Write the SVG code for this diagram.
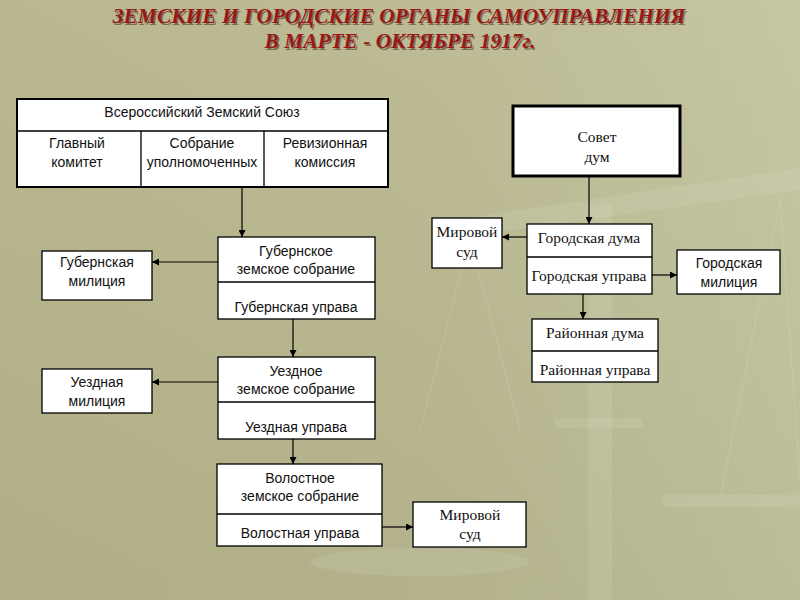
<svg xmlns="http://www.w3.org/2000/svg" width="800" height="600" viewBox="0 0 800 600">
<defs>
<linearGradient id="bg" x1="0" y1="0" x2="1" y2="0">
<stop offset="0" stop-color="#b6b58b"/>
<stop offset="0.55" stop-color="#bab991"/>
<stop offset="1" stop-color="#c3c49f"/>
</linearGradient>
<linearGradient id="bgv" x1="0" y1="0" x2="0" y2="1">
<stop offset="0" stop-color="#ffffff" stop-opacity="0.04"/>
<stop offset="1" stop-color="#000000" stop-opacity="0.04"/>
</linearGradient>
<marker id="ah" markerWidth="7" markerHeight="7" refX="7" refY="3.5" orient="auto" markerUnits="userSpaceOnUse">
<path d="M0,0 L7,3.5 L0,7 z" fill="#000"/>
</marker>
<style>
.box{fill:#fff;stroke:#000;stroke-width:1.3}
.thick{fill:#fff;stroke:#000;stroke-width:2}
.thicker{fill:#fff;stroke:#000;stroke-width:3}
.div{stroke:#000;stroke-width:1.3;fill:none}
.s{font-family:"Liberation Sans",Arial,sans-serif;font-size:14px;fill:#111;text-anchor:middle}
.r{font-family:"Liberation Serif","Times New Roman",serif;font-size:15.5px;fill:#111;text-anchor:middle}
.title{font-family:"Liberation Serif","Times New Roman",serif;font-size:21.4px;font-weight:bold;font-style:italic;text-anchor:middle}
.conn line{stroke:#000;stroke-width:1.2;marker-end:url(#ah)}
.faint{fill:#ffffff;opacity:0.09}
.fline{stroke:#ffffff;stroke-opacity:0.14;stroke-width:1;fill:none}
</style>
</defs>
<rect width="800" height="600" fill="url(#bg)"/>
<rect width="800" height="600" fill="url(#bgv)"/>
<g id="background-scales">
<rect class="faint" x="588" y="205" width="24" height="395"/>
<polygon class="faint" points="440,222 800,168 800,190 440,240"/>
<path class="fline" d="M470,238 L420,430 M470,238 L520,430 M780,200 L720,500 M780,200 L800,480"/>
<rect class="faint" x="555" y="418" width="88" height="10"/>
<rect class="faint" x="663" y="495" width="137" height="12"/>
<ellipse class="faint" cx="420" cy="562" rx="110" ry="14"/>
</g>
<g id="title">
<text class="title" x="399" y="23" fill="#3a0a0a" opacity="0.45" transform="translate(1.5,1.5)">ЗЕМСКИЕ И ГОРОДСКИЕ ОРГАНЫ САМОУПРАВЛЕНИЯ</text>
<text class="title" x="399" y="23" fill="#981818">ЗЕМСКИЕ И ГОРОДСКИЕ ОРГАНЫ САМОУПРАВЛЕНИЯ</text>
<text class="title" x="400" y="48" fill="#3a0a0a" opacity="0.45" transform="translate(1.5,1.5)">В МАРТЕ - ОКТЯБРЕ 1917г.</text>
<text class="title" x="400" y="48" fill="#981818">В МАРТЕ - ОКТЯБРЕ 1917г.</text>
</g>
<g id="zemsky-soyuz">
<rect class="thick" x="17" y="99" width="371" height="88"/>
<line class="div" x1="17" y1="131" x2="388" y2="131"/>
<line class="div" x1="141" y1="131" x2="141" y2="187"/>
<line class="div" x1="264" y1="131" x2="264" y2="187"/>
<text class="s" x="202" y="117">Всероссийский Земский Союз</text>
<text class="s" x="77" y="148">Главный</text>
<text class="s" x="77" y="167">комитет</text>
<text class="s" x="202" y="148">Собрание</text>
<text class="s" x="202" y="167">уполномоченных</text>
<text class="s" x="325" y="148">Ревизионная</text>
<text class="s" x="325" y="167">комиссия</text>
</g>
<g id="gub-sobranie">
<rect class="box" x="218" y="237" width="157" height="82"/>
<line class="div" x1="218" y1="282" x2="375" y2="282"/>
<text class="s" x="296" y="256">Губернское</text>
<text class="s" x="296" y="274">земское собрание</text>
<text class="s" x="296" y="312">Губернская управа</text>
</g>
<g id="gub-militsiya">
<rect class="box" x="42" y="251" width="110" height="49"/>
<text class="s" x="97" y="267">Губернская</text>
<text class="s" x="97" y="286">милиция</text>
</g>
<g id="uezd-sobranie">
<rect class="box" x="218" y="357" width="157" height="82"/>
<line class="div" x1="218" y1="402" x2="375" y2="402"/>
<text class="s" x="296" y="376">Уездное</text>
<text class="s" x="296" y="394">земское собрание</text>
<text class="s" x="296" y="432">Уездная управа</text>
</g>
<g id="uezd-militsiya">
<rect class="box" x="42" y="369" width="110" height="44"/>
<text class="s" x="97" y="387">Уездная</text>
<text class="s" x="97" y="406">милиция</text>
</g>
<g id="volost-sobranie">
<rect class="box" x="217" y="464" width="165" height="82"/>
<line class="div" x1="217" y1="514" x2="382" y2="514"/>
<text class="s" x="300" y="483">Волостное</text>
<text class="s" x="300" y="501">земское собрание</text>
<text class="s" x="300" y="538">Волостная управа</text>
</g>
<g id="mirovoy-sud-volost">
<rect class="box" x="413" y="502" width="113" height="45"/>
<text class="r" x="470" y="520">Мировой</text>
<text class="r" x="470" y="539">суд</text>
</g>
<g id="sovet-dum">
<rect class="thicker" x="513" y="106" width="167" height="70"/>
<text class="r" x="597" y="142">Совет</text>
<text class="r" x="597" y="162">дум</text>
</g>
<g id="gorod-duma">
<rect class="box" x="527" y="224" width="125" height="70"/>
<line class="div" x1="527" y1="257" x2="652" y2="257"/>
<text class="r" x="589" y="243">Городская дума</text>
<text class="r" x="589" y="281">Городская управа</text>
</g>
<g id="mirovoy-sud-gorod">
<rect class="box" x="432" y="218" width="70" height="50"/>
<text class="r" x="467" y="237">Мировой</text>
<text class="r" x="467" y="257">суд</text>
</g>
<g id="gorod-militsiya">
<rect class="box" x="677" y="250" width="103" height="44"/>
<text class="s" x="729" y="268">Городская</text>
<text class="s" x="729" y="287">милиция</text>
</g>
<g id="rayon-duma">
<rect class="box" x="532" y="319" width="126" height="63"/>
<line class="div" x1="532" y1="351" x2="658" y2="351"/>
<text class="r" x="595" y="338">Районная дума</text>
<text class="r" x="595" y="375">Районная управа</text>
</g>
<g id="connectors" class="conn">
<line x1="242" y1="188" x2="242" y2="237"/>
<line x1="218" y1="262" x2="152" y2="262"/>
<line x1="293" y1="319" x2="293" y2="357"/>
<line x1="218" y1="382" x2="152" y2="382"/>
<line x1="293" y1="439" x2="293" y2="464"/>
<line x1="382" y1="527" x2="413" y2="527"/>
<line x1="589" y1="177" x2="589" y2="224"/>
<line x1="527" y1="237" x2="502" y2="237"/>
<line x1="652" y1="275" x2="677" y2="275"/>
<line x1="583" y1="294" x2="583" y2="319"/>
</g>
</svg>
